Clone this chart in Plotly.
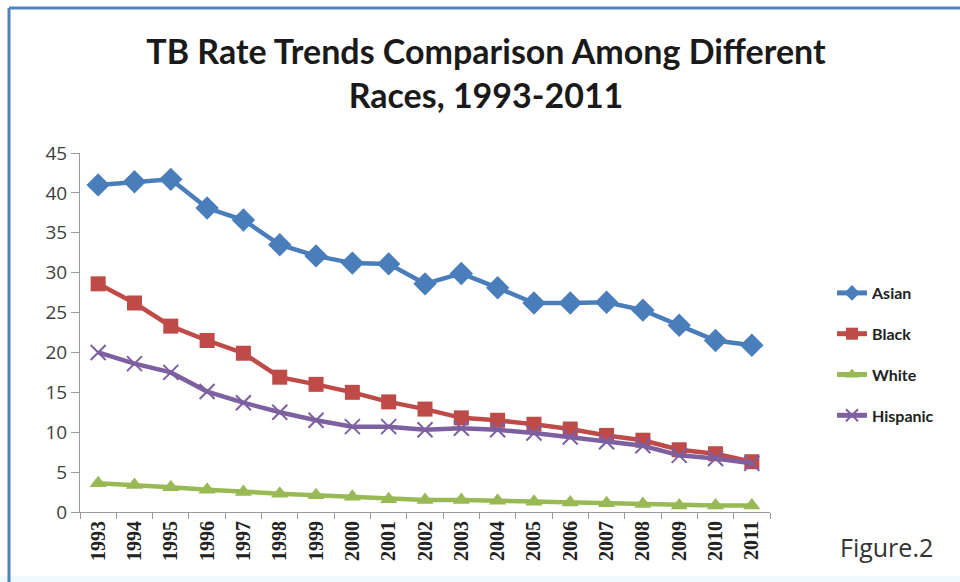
import plotly.graph_objects as go

years = [str(y) for y in range(1993, 2012)]
asian = [41.0, 41.4, 41.7, 38.1, 36.6, 33.5, 32.1, 31.2, 31.1, 28.6, 29.9, 28.1, 26.2, 26.2, 26.3, 25.3, 23.4, 21.5, 20.9]
black = [28.6, 26.2, 23.3, 21.5, 19.9, 16.9, 16.0, 15.0, 13.8, 12.9, 11.8, 11.5, 11.0, 10.4, 9.6, 9.0, 7.8, 7.3, 6.3]
white = [3.6, 3.4, 3.1, 2.8, 2.5, 2.3, 2.1, 1.9, 1.6, 1.5, 1.5, 1.4, 1.3, 1.2, 1.1, 1.0, 0.8, 0.8, 0.8]
hispanic = [20.0, 18.6, 17.5, 15.1, 13.7, 12.5, 11.5, 10.7, 10.7, 10.3, 10.5, 10.3, 9.9, 9.4, 8.8, 8.3, 7.1, 6.7, 6.1]
y_ticks = [0, 5, 10, 15, 20, 25, 30, 35, 40, 45]

fig = go.Figure()
fig.add_trace(go.Scatter(x=years, y=asian, name="Asian", mode="lines+markers", legendgroup="a",
                         line=dict(color="#4a7ebb", width=4.5),
                         marker=dict(symbol="diamond", size=18, color="#4a7ebb")))
fig.add_trace(go.Scatter(x=years, y=black, name="Black", mode="lines+markers", legendgroup="b",
                         line=dict(color="#be4b48", width=4.5),
                         marker=dict(symbol="square", size=15, color="#be4b48")))
fig.add_trace(go.Scatter(x=years, y=white, name="White", mode="lines+markers", legendgroup="c",
                         line=dict(color="#98b954", width=4.5),
                         marker=dict(symbol="triangle-up", size=15, color="#98b954")))
fig.add_trace(go.Scatter(x=years, y=hispanic, name="Hispanic", mode="lines+markers", legendgroup="d",
                         line=dict(color="#7d60a0", width=4.5),
                         marker=dict(symbol="x-thin", size=15, color="#7d60a0",
                                     line=dict(color="#7d60a0", width=2))))

W, H = 960, 582
L, R, T, B = 80, 190, 153, 70
pw, ph = W - L - R, H - T - B
def px(x):
    return (x - L) / pw
def py(y):
    return (H - B - y) / ph

shapes = [
    dict(type="rect", xref="paper", yref="paper", x0=px(0), x1=px(W), y0=py(H), y1=py(576),
         fillcolor="#eef9fc", line=dict(width=0), layer="below"),
    dict(type="line", xref="paper", yref="paper", x0=px(9), x1=px(W), y0=py(8), y1=py(8),
         line=dict(color="#4f81bd", width=3)),
    dict(type="line", xref="paper", yref="paper", x0=px(9), x1=px(9), y0=py(8), y1=py(H),
         line=dict(color="#4f81bd", width=3)),
]

fig.update_layout(
    width=W, height=H,
    margin=dict(l=L, r=R, t=T, b=B),
    paper_bgcolor="white", plot_bgcolor="white",
    title=dict(text="TB Rate Trends Comparison Among Different<br>Races, 1993-2011",
               x=486 / W, xanchor="center", y=1 - 64 / H, yanchor="middle",
               font=dict(family="Lato", size=34, color="#1a1a1a", weight="bold")),
    xaxis=dict(type="category", range=[-0.5, 18.5], showgrid=False,
               showline=True, linecolor="#9a9a9a", linewidth=1,
               ticks="outside", tickson="boundaries", ticklen=6, tickcolor="#9a9a9a",
               tickangle=-90, tickfont=dict(family="Liberation Serif", size=20, color="#222", weight="bold")),
    yaxis=dict(range=[0, 45], tickvals=y_ticks, showgrid=False, zeroline=False,
               showline=True, linecolor="#9a9a9a", linewidth=1,
               ticks="outside", ticklen=8, tickcolor="#9a9a9a",
               tickfont=dict(family="Open Sans", size=19, color="#404040")),
    legend=dict(x=px(832), y=py(276), xanchor="left", yanchor="top",
                font=dict(family="Lato", size=16, color="#222", weight="bold"),
                tracegroupgap=17, bgcolor="rgba(0,0,0,0)", itemwidth=30, itemsizing="constant"),
    shapes=shapes,
    annotations=[dict(text="Figure.2", xref="paper", yref="paper", x=px(886), y=py(547),
                      xanchor="center", yanchor="middle", showarrow=False,
                      font=dict(family="Open Sans", size=25, color="#333"))],
)

fig.write_html("out.html", config={"displayModeBar": False},
               post_script="document.body.style.margin='0';document.body.style.overflow='hidden';")
